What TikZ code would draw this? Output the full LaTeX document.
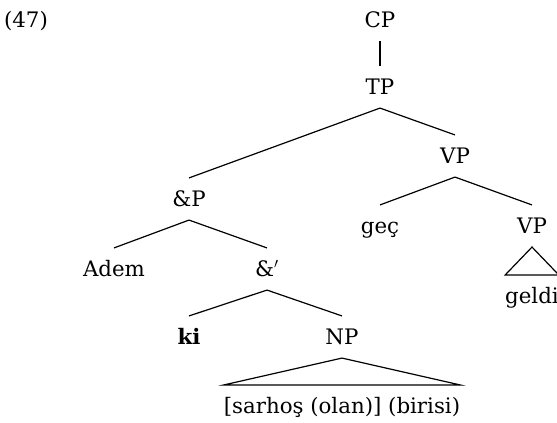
\documentclass[tikz,border=0pt]{standalone}
\usepackage{fontspec}
\setmainfont{DejaVu Serif}
\usetikzlibrary{calc}
\tikzstyle{line} = [draw, line width=0.9pt]
\tikzstyle{cat} = [inner sep=0pt, outer sep=0pt, outer ysep=10pt,
                   text height=11.6pt, text depth=0pt,
                   font={\fontsize{16}{19}\selectfont}]

\begin{document}
\begin{tikzpicture}[x=0.75pt, y=-0.75pt]
      \useasboundingbox (0,0) rectangle (557,422);
      \node [cat] at (26,20) (ex) {(47)};
      \node [cat] at (380,20) (cp) {CP};
      \node [cat] at (380,87) (tp) {TP};
      \node [cat] at (455,156) (vp) {VP};
      \node [cat] at (189,199) (andp) {\&P};
      \node [cat] at (380,226) (gec) {geç};
      \node [cat] at (532,226) (vpb) {VP};
      \node [cat] at (532,296) (geldi) {geldi};
      \node [cat] at (114,269) (adem) {Adem};
      \node [cat] at (267,269) (andbar) {\&$'$};
      \node [cat] at (189,337) (ki) {\textbf{ki}};
      \node [cat] at (342,337) (np) {NP};
      \node [cat] at (342,406) (sarhos) {[sarhoş (olan)] (birisi)};
      \path [line] (cp.south) -- (tp.north);
      \path [line] (tp.south) -- (andp.north);
      \path [line] (tp.south) -- (vp.north);
      \path [line] (vp.south) -- (gec.north);
      \path [line] (vp.south) -- (vpb.north);
      \path [line] (vpb.south) -- (geldi.north west) -- (geldi.north east) -- cycle;
      \path [line] (andp.south) -- (adem.north);
      \path [line] (andp.south) -- (andbar.north);
      \path [line] (andbar.south) -- (ki.north);
      \path [line] (andbar.south) -- (np.north);
      \path [line] (np.south) -- (sarhos.north west) -- (sarhos.north east) -- cycle;
    \end{tikzpicture}
\end{document}
